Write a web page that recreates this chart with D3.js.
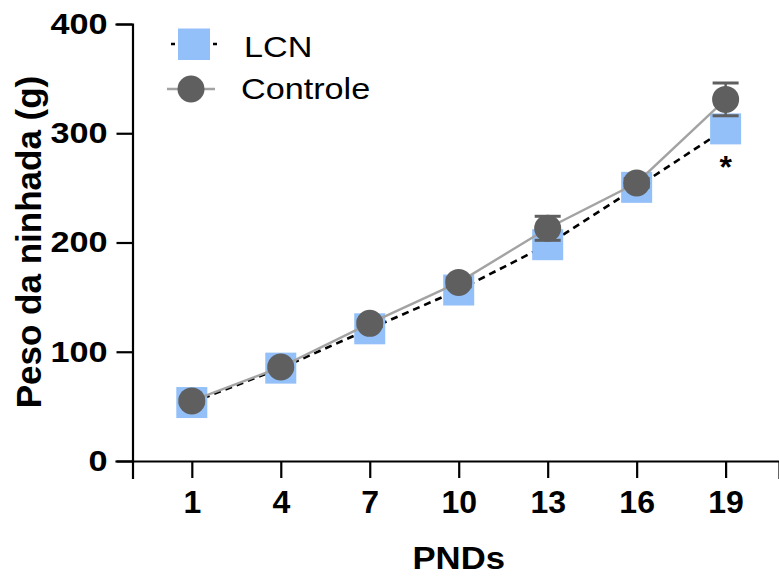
<!DOCTYPE html>
<html>
<head>
<meta charset="utf-8">
<script src="https://cdn.jsdelivr.net/npm/d3@7"></script>
<style>
  body { margin: 0; background: #fff; }
  text { font-family: "Liberation Sans", Arial, sans-serif; }
</style>
</head>
<body>
<div id="chart"></div>
<script>
// data
var pnds = [1, 4, 7, 10, 13, 16, 19];
var lcn = [53.5, 85, 121, 156.5, 198, 250.5, 304];
var controle = [55, 86, 126, 163.5, 213, 254.5, 331];
var controleErr = [2, 2, 3, 4, 11, 4, 15];
var yTicks = [0, 100, 200, 300, 400];

var width = 779, height = 577;

var svg = d3.select("#chart")
  .append("svg")
  .attr("width", width)
  .attr("height", height);

var x = d3.scaleLinear()
  .domain([-1, 20.8])
  .range([132.5, 779]);

var y = d3.scaleLinear()
  .domain([0, 400])
  .range([461, 24]);

// Y axis
var ySx = 1.18;
var yAxis = svg.append("g")
  .attr("transform", "translate(" + x(-1) + ",0)")
  .call(d3.axisLeft(y).tickValues(yTicks).tickSize(16).tickPadding(9));
yAxis.selectAll("text")
  .attr("x", -25 / ySx)
  .attr("transform", "scale(" + ySx + ",1)")
  .style("font-size", "29px")
  .style("font-weight", "bold")
  .attr("fill", "#000");

// X axis
var xAxis = svg.append("g")
  .attr("transform", "translate(0," + y(0) + ")")
  .call(d3.axisBottom(x).tickValues(pnds).tickSize(17).tickPadding(12));
xAxis.selectAll("text")
  .style("font-size", "32px")
  .style("font-weight", "bold")
  .attr("fill", "#000");

svg.selectAll(".domain, .tick line")
  .attr("stroke", "#000")
  .attr("stroke-width", 2.2);
svg.selectAll(".domain").attr("stroke-linecap", "square");

// axis titles
svg.append("text")
  .attr("text-anchor", "middle")
  .attr("x", x(10) / 1.12)
  .attr("y", 569)
  .attr("transform", "scale(1.12,1)")
  .style("font-size", "31px")
  .style("font-weight", "bold")
  .text("PNDs");

svg.append("text")
  .attr("text-anchor", "middle")
  .attr("transform", "translate(41,242) rotate(-90)")
  .style("font-size", "35px")
  .style("font-weight", "bold")
  .text("Peso da ninhada (g)");

var line = d3.line()
  .x(function(d, i) { return x(pnds[i]); })
  .y(function(d) { return y(d); });

// LCN dashed line
svg.append("path")
  .datum(lcn)
  .attr("fill", "none")
  .attr("stroke", "#000")
  .attr("stroke-width", 2.6)
  .attr("stroke-dasharray", "7,5")
  .attr("d", line);

// LCN squares
var sq = 31;
svg.selectAll(".sq")
  .data(lcn)
  .enter()
  .append("rect")
  .attr("class", "sq")
  .attr("x", function(d, i) { return x(pnds[i]) - sq / 2; })
  .attr("y", function(d) { return y(d) - sq / 2; })
  .attr("width", sq)
  .attr("height", sq)
  .attr("fill", "#93c0f8");

// Controle line
svg.append("path")
  .datum(controle)
  .attr("fill", "none")
  .attr("stroke", "#a3a3a3")
  .attr("stroke-width", 2.4)
  .attr("d", line);

// Controle error bars
var eb = svg.selectAll(".eb")
  .data(controle)
  .enter()
  .append("g")
  .attr("class", "eb");
eb.append("line")
  .attr("x1", function(d, i) { return x(pnds[i]); })
  .attr("x2", function(d, i) { return x(pnds[i]); })
  .attr("y1", function(d, i) { return y(d + controleErr[i]); })
  .attr("y2", function(d, i) { return y(d - controleErr[i]); })
  .attr("stroke", "#5f5f5f")
  .attr("stroke-width", 2.5);
eb.selectAll(".cap")
  .data(function(d, i) { return [[i, d + controleErr[i]], [i, d - controleErr[i]]]; })
  .enter()
  .append("line")
  .attr("x1", function(d) { return x(pnds[d[0]]) - 13; })
  .attr("x2", function(d) { return x(pnds[d[0]]) + 13; })
  .attr("y1", function(d) { return y(d[1]); })
  .attr("y2", function(d) { return y(d[1]); })
  .attr("stroke", "#5f5f5f")
  .attr("stroke-width", 3);

// Controle circles
svg.selectAll(".dot")
  .data(controle)
  .enter()
  .append("circle")
  .attr("class", "dot")
  .attr("cx", function(d, i) { return x(pnds[i]); })
  .attr("cy", function(d) { return y(d); })
  .attr("r", 13.5)
  .attr("fill", "#5f5f5f");

// significance mark
svg.append("text")
  .attr("text-anchor", "middle")
  .attr("x", x(19))
  .attr("y", 178)
  .style("font-size", "32px")
  .style("font-weight", "bold")
  .text("*");

// legend
var lgSx = 1.14;
var lg = svg.append("g");
lg.append("line")
  .attr("x1", 171).attr("x2", 217)
  .attr("y1", 44).attr("y2", 44)
  .attr("stroke", "#000")
  .attr("stroke-width", 2.4)
  .attr("stroke-dasharray", "4,38");
lg.append("rect")
  .attr("x", 178).attr("y", 28.5)
  .attr("width", 32).attr("height", 31.5)
  .attr("fill", "#93c0f8");
lg.append("text")
  .attr("x", 244 / lgSx).attr("y", 57)
  .attr("transform", "scale(" + lgSx + ",1)")
  .style("font-size", "30px")
  .text("LCN");

lg.append("line")
  .attr("x1", 167).attr("x2", 215)
  .attr("y1", 89).attr("y2", 89)
  .attr("stroke", "#a3a3a3")
  .attr("stroke-width", 2.6);
lg.append("circle")
  .attr("cx", 191).attr("cy", 89)
  .attr("r", 13.5)
  .attr("fill", "#5f5f5f");
lg.append("text")
  .attr("x", 241 / lgSx).attr("y", 99)
  .attr("transform", "scale(" + lgSx + ",1)")
  .style("font-size", "30px")
  .text("Controle");
</script>
</body>
</html>
